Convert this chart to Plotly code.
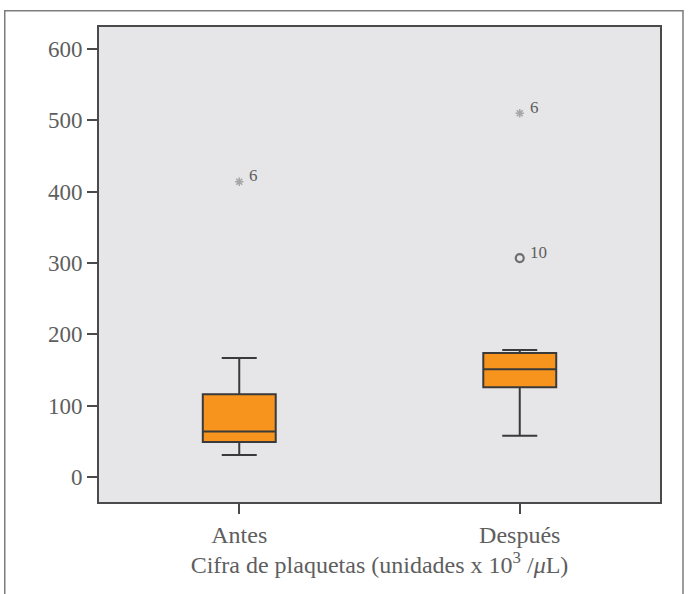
import plotly.graph_objects as go

# Platelet counts before/after (x10^3 / uL): box statistics per group
categories = ["Antes", "Después"]
q1_vals = [49, 126]
median_vals = [64, 151]
q3_vals = [116, 174]
lower_whisker = [31, 58]
upper_whisker = [167, 178]

# Outlying cases with their case numbers
outlier_cat = ["Antes", "Después", "Después"]
outlier_val = [414, 510, 307]
outlier_case = ["6", "6", "10"]
outlier_kind = ["extreme", "extreme", "outlier"]

y_ticks = [0, 100, 200, 300, 400, 500, 600]

FONT = "Liberation Serif, Times New Roman, serif"
TEXT = "#5e5e5e"
LINE = "#4a4a4a"

fig = go.Figure()

fig.add_trace(go.Box(
    x=categories,
    q1=q1_vals,
    median=median_vals,
    q3=q3_vals,
    lowerfence=lower_whisker,
    upperfence=upper_whisker,
    boxpoints=False,
    width=0.26,
    whiskerwidth=0.48,
    fillcolor="#F7941E",
    line=dict(color="#3a3a3a", width=2),
    showlegend=False,
    hoverinfo="skip",
))

symbol_map = {"extreme": "asterisk-open", "outlier": "circle-open"}
color_map = {"extreme": "#8a8a8a", "outlier": "#3a3a3a"}
size_map = {"extreme": 7, "outlier": 8}

fig.add_trace(go.Scatter(
    x=outlier_cat,
    y=outlier_val,
    mode="markers",
    marker=dict(
        symbol=[symbol_map[k] for k in outlier_kind],
        color=[color_map[k] for k in outlier_kind],
        size=[size_map[k] for k in outlier_kind],
        line=dict(width=[1.5 if k == "extreme" else 2.2 for k in outlier_kind],
                  color=[color_map[k] for k in outlier_kind]),
    ),
    showlegend=False,
    hoverinfo="skip",
))

for cat, val, case in zip(outlier_cat, outlier_val, outlier_case):
    fig.add_annotation(
        x=cat, y=val, text=case, showarrow=False,
        xanchor="left", yanchor="middle",
        xshift=8, yshift=6,
        font=dict(family=FONT, size=17, color=TEXT),
    )

# Outer figure frame (top and left edges visible)
fig.add_shape(
    type="rect", xref="paper", yref="paper",
    x0=-0.168, x1=1.041, y0=-0.25, y1=1.034,
    line=dict(color="#7c7c7c", width=1.5),
    layer="below",
)

fig.update_layout(
    width=692,
    height=594,
    margin=dict(l=99, r=32, t=27, b=92),
    paper_bgcolor="white",
    plot_bgcolor="#E6E6E8",
    font=dict(family=FONT, size=22, color=TEXT),
    xaxis=dict(
        type="category",
        categoryorder="array",
        categoryarray=categories,
        range=[-0.5, 1.5],
        showline=True, linecolor=LINE, linewidth=2, mirror=True,
        ticks="outside", ticklen=10, tickwidth=2, tickcolor=LINE,
        showgrid=False, zeroline=False,
        tickfont=dict(family=FONT, size=24, color=TEXT),
        title=dict(
            text="Cifra de plaquetas (unidades x 10<sup>3</sup> /<i>μ</i>L)",
            font=dict(family=FONT, size=24, color=TEXT),
            standoff=4,
        ),
    ),
    yaxis=dict(
        range=[-35, 631],
        tickvals=y_ticks,
        showline=True, linecolor=LINE, linewidth=2, mirror=True,
        ticks="outside", ticklen=10, tickwidth=2, tickcolor=LINE,
        showgrid=False, zeroline=False,
        tickfont=dict(family=FONT, size=23, color=TEXT),
    ),
)

fig.write_html("out.html")
